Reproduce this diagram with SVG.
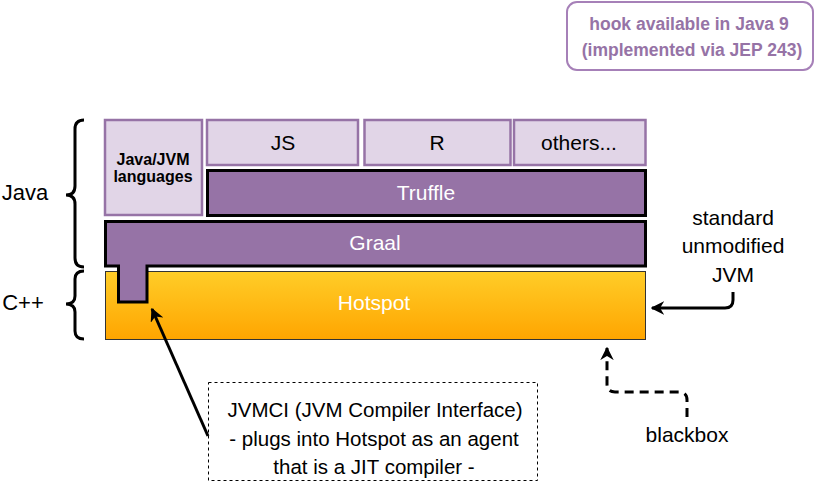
<svg xmlns="http://www.w3.org/2000/svg" width="818" height="493" viewBox="0 0 818 493">
<style>
.t{font-family:"Liberation Sans",Arial,sans-serif;fill:#000;text-anchor:middle}
.w{font-family:"Liberation Sans",Arial,sans-serif;fill:#fff;text-anchor:middle;font-size:21px}
.lang{fill:#E1D5E7;stroke:#9673A6;stroke-width:2.5}
.dark{fill:#9673A6;stroke:#000;stroke-width:3}
.conn{fill:none;stroke:#000;stroke-width:3}
</style>
<defs>
<linearGradient id="hs" x1="0" y1="0" x2="0" y2="1">
<stop offset="0" stop-color="#FFCD28"/>
<stop offset="1" stop-color="#FFA500"/>
</linearGradient>
<marker id="arr" viewBox="0 0 10 10" refX="9" refY="5" markerWidth="4.5" markerHeight="4.5" orient="auto" markerUnits="strokeWidth">
<path d="M0,0 L10,5 L0,10 L3,5 z" fill="#000"/>
</marker>
</defs>
<rect width="818" height="493" fill="#fff"/>

<g id="note-hook">
<rect x="567" y="2" width="246" height="68" rx="10" fill="#fff" stroke="#A680B8" stroke-width="2"/>
<text x="689" y="30" font-family="Liberation Sans,Arial,sans-serif" font-weight="bold" font-size="17.5" fill="#9673A6" text-anchor="middle">hook available in Java 9</text>
<text x="692" y="56" font-family="Liberation Sans,Arial,sans-serif" font-weight="bold" font-size="17.5" fill="#9673A6" text-anchor="middle">(implemented via JEP 243)</text>
</g>

<g id="hotspot">
<rect x="105.5" y="271.5" width="540" height="68" fill="url(#hs)" stroke="#333" stroke-width="1"/>
<text class="w" x="374" y="310">Hotspot</text>
</g>

<g id="graal">
<path class="dark" d="M105.5,221.5 H645.5 V266 H147 V302 H118.5 V266 H105.5 Z"/>
<text class="w" x="375" y="250">Graal</text>
</g>

<g id="java-jvm-languages">
<rect class="lang" x="105" y="120" width="97" height="95"/>
<text class="t" x="153" y="165" font-size="16" font-weight="bold">Java/JVM</text>
<text class="t" x="153" y="182" font-size="16" font-weight="bold">languages</text>
</g>

<g id="js">
<rect class="lang" x="207" y="120" width="151" height="45"/>
<text class="t" x="283" y="150" font-size="21">JS</text>
</g>
<g id="r">
<rect class="lang" x="364.5" y="120" width="146" height="45"/>
<text class="t" x="437" y="150" font-size="21">R</text>
</g>
<g id="others">
<rect class="lang" x="514" y="120" width="131.5" height="45"/>
<text class="t" x="579" y="150" font-size="21">others...</text>
</g>

<g id="truffle">
<rect class="dark" x="207.5" y="170.5" width="438" height="45"/>
<text class="w" x="426" y="200">Truffle</text>
</g>

<g id="java-label">
<path class="conn" d="M84,120 Q75,120 75,129 V186 Q75,195 66,195 Q75,195 75,204 V258 Q75,267 84,267"/>
<text class="t" x="25" y="200" font-size="22">Java</text>
</g>
<g id="cpp-label">
<path class="conn" d="M84,271 Q75,271 75,279 V296 Q75,304 66,304 Q75,304 75,312 V331 Q75,339 84,339"/>
<text class="t" x="23" y="310" font-size="22">C++</text>
</g>

<g id="jvm-label">
<text class="t" x="733" y="225" font-size="21">standard</text>
<text class="t" x="733" y="253" font-size="21">unmodified</text>
<text class="t" x="733" y="282" font-size="21">JVM</text>
</g>

<g id="jvmci-note">
<rect x="208.5" y="382.5" width="329" height="98" fill="#fff" stroke="#000" stroke-width="1" stroke-dasharray="3,3"/>
<text class="t" x="375" y="417" font-size="20.5">JVMCI (JVM Compiler Interface)</text>
<text class="t" x="374" y="446" font-size="20.5">- plugs into Hotspot as an agent</text>
<text class="t" x="374" y="474" font-size="20.5">that is a JIT compiler -</text>
</g>

<g id="blackbox-label">
<text class="t" x="687" y="442" font-size="21">blackbox</text>
</g>

<g id="connectors">
<path class="conn" d="M733,292 V300 Q733,308 725,308 H652" marker-end="url(#arr)"/>
<path class="conn" d="M208,436 L152,309" marker-end="url(#arr)"/>
<path class="conn" d="M687,417 V400 Q687,392 679,392 H615 Q607,392 607,384 V348" stroke-dasharray="9,6" marker-end="url(#arr)"/>
</g>
</svg>
